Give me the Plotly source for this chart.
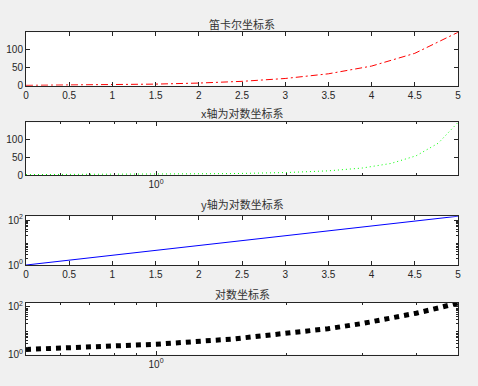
import plotly.graph_objects as go
from plotly.subplots import make_subplots
import math

# data (y ≈ e^x at half steps)
x_vals = [0, 0.5, 1.0, 1.5, 2.0, 2.5, 3.0, 3.5, 4.0, 4.5, 5.0]
y_vals = [1.00, 1.65, 2.72, 4.48, 7.39, 12.18, 20.09, 33.12, 54.60, 90.02, 148.41]
titles = ["笛卡尔坐标系", "x轴为对数坐标系", "y轴为对数坐标系", "对数坐标系"]
lin_xticks = [0, 0.5, 1, 1.5, 2, 2.5, 3, 3.5, 4, 4.5, 5]
lin_xtext = ["0", "0.5", "1", "1.5", "2", "2.5", "3", "3.5", "4", "4.5", "5"]
lin_yticks = [0, 50, 100]
log_xticks = [1]
log_xtext = ["10<sup>0</sup>"]
log_xminor = [0.6, 0.7, 0.8, 0.9, 2, 3, 4]
log_yticks = [1, 100]
log_ytext = ["10<sup>0</sup>", "10<sup>2</sup>"]
log_yminor = [2, 3, 4, 5, 6, 7, 8, 9, 20, 30, 40, 50, 60, 70, 80, 90]

# log-x plots drop x = 0
xl = x_vals[1:]
yl = y_vals[1:]

fig = make_subplots(rows=4, cols=1)

fig.add_trace(go.Scatter(x=x_vals, y=y_vals, mode="lines",
                         line=dict(color="#ff0000", width=1, dash="7px,3px,2px,3px")), row=1, col=1)
fig.add_trace(go.Scatter(x=xl, y=yl, mode="lines",
                         line=dict(color="#00ff00", width=1, dash="1px,3px")), row=2, col=1)
fig.add_trace(go.Scatter(x=x_vals, y=y_vals, mode="lines",
                         line=dict(color="#0000ff", width=1)), row=3, col=1)
fig.add_trace(go.Scatter(x=xl, y=yl, mode="lines",
                         line=dict(color="#000000", width=5, dash="5px,5px")), row=4, col=1)

H = 386.0
doms = [(30, 84.7), (122.3, 176.3), (218.3, 268.3), (307, 360)]
title_y = [22, 113, 206, 297.5]

axcol = "#262626"
tickfont = dict(family="Liberation Sans, Arial", size=10, color=axcol)
common = dict(showline=True, linecolor=axcol, linewidth=1, mirror="ticks",
              ticks="inside", ticklen=4, tickcolor=axcol, showgrid=False,
              zeroline=False, tickfont=tickfont)

ymax = max(y_vals)
xmin_log = min(xl)
xmax = max(x_vals)

for i in range(4):
    r = i + 1
    top, bot = doms[i]
    fig.update_yaxes(domain=[1 - bot / H, 1 - top / H], row=r, col=1, **common)
    fig.update_xaxes(row=r, col=1, **common)

# subplot 1: linear
fig.update_xaxes(row=1, col=1, range=[0, xmax], tickmode="array", tickvals=lin_xticks, ticktext=lin_xtext)
fig.update_yaxes(row=1, col=1, range=[0, ymax], tickmode="array", tickvals=lin_yticks)
# subplot 2: semilogx
fig.update_xaxes(row=2, col=1, type="log", range=[math.log10(xmin_log), math.log10(xmax)],
                 tickmode="array", tickvals=log_xticks, ticktext=log_xtext,
                 minor=dict(tickmode="array", tickvals=log_xminor, ticks="inside", ticklen=2, tickcolor=axcol))
fig.update_yaxes(row=2, col=1, range=[0, ymax], tickmode="array", tickvals=lin_yticks)
# subplot 3: semilogy
fig.update_xaxes(row=3, col=1, range=[0, xmax], tickmode="array", tickvals=lin_xticks, ticktext=lin_xtext)
fig.update_yaxes(row=3, col=1, type="log", range=[0, math.log10(ymax)],
                 tickmode="array", tickvals=log_yticks, ticktext=log_ytext,
                 minor=dict(tickmode="array", tickvals=log_yminor, ticks="inside", ticklen=2, tickcolor=axcol))
# subplot 4: loglog
fig.update_xaxes(row=4, col=1, type="log", range=[math.log10(xmin_log), math.log10(xmax)],
                 tickmode="array", tickvals=log_xticks, ticktext=log_xtext,
                 minor=dict(tickmode="array", tickvals=log_xminor, ticks="inside", ticklen=2, tickcolor=axcol))
fig.update_yaxes(row=4, col=1, type="log", range=[0, math.log10(ymax)],
                 tickmode="array", tickvals=log_yticks, ticktext=log_ytext,
                 minor=dict(tickmode="array", tickvals=log_yminor, ticks="inside", ticklen=2, tickcolor=axcol))

for i, t in enumerate(titles):
    fig.add_annotation(text=t, xref="paper", yref="paper", x=0.5, y=1 - title_y[i] / H,
                       xanchor="center", yanchor="middle", showarrow=False,
                       font=dict(family="Noto Sans CJK SC", size=11, color="#333333"))

fig.update_layout(width=478, height=386, margin=dict(l=26, r=20, t=0, b=0),
                  paper_bgcolor="#f0f0f0", plot_bgcolor="#ffffff", showlegend=False)

fig.write_html("out.html", config={"displayModeBar": False},
               post_script="document.body.style.margin='0';document.body.style.background='#f0f0f0';")
